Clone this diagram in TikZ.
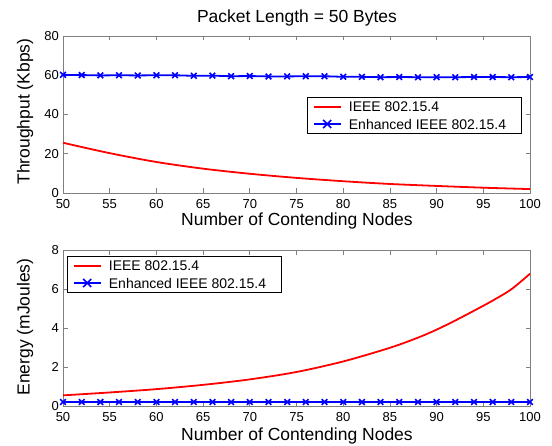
\documentclass[tikz,border=0pt]{standalone}
\usepackage{fontspec}
\setmainfont{Liberation Sans}
\usetikzlibrary{plotmarks}

\tikzset{
  axisline/.style={draw=black!50, line width=0.8pt},
  ticklabel/.style={font=\fontsize{13}{13}\selectfont, inner sep=1pt},
  axislabel/.style={font=\fontsize{17.5}{17.5}\selectfont, inner sep=0pt},
  redcurve/.style={red, line width=1.8pt},
  bluecurve/.style={blue, line width=1.8pt, mark=x, mark size=4pt,
                    mark options={line width=1.6pt}},
  legbox/.style={draw, line width=0.6pt, fill=white, minimum width=214pt,
                 minimum height=36pt, inner sep=0pt},
  legtext/.style={font=\fontsize{14}{14}\selectfont, anchor=west, inner sep=0pt},
  xmark/.pic={\draw[blue, line width=1.6pt] (-4pt,-4pt) -- (4pt,4pt)
                (-4pt,4pt) -- (4pt,-4pt);},
}

\begin{document}
\begin{tikzpicture}[x=1pt, y=1pt]
\useasboundingbox (0,0) rectangle (552,445);

% throughput vs. number of nodes
\begin{scope}[xshift=-404pt, yshift=252pt, x=9.34pt, y=1.9625pt]
  \draw[axisline] (50,0) rectangle (100,80);
  \foreach \t in {50,55,...,100} {
    \draw[axisline] (\t,0) -- ++(0,4.5pt) (\t,80) -- ++(0,-4.5pt);
    \node[ticklabel, yshift=-11pt] (tpx\t) at (\t,0) {\t};
  }
  \foreach \v in {0,20,...,80} {
    \draw[axisline] (50,\v) -- ++(4.5pt,0) (100,\v) -- ++(-4.5pt,0);
    \node[ticklabel, anchor=east, xshift=-3pt] (tpy\v) at (50,\v) {\v};
  }
  \draw[redcurve] plot[smooth] coordinates {
    (50,25.6) (55,20.3) (60,15.8) (65,12.4) (70,9.8) (75,7.7)
    (80,6.0) (85,4.6) (90,3.6) (95,2.7) (100,2.0)};
  \draw[bluecurve] plot coordinates {
    (50,60.2) (52,60.1) (54,59.9) (56,60.0) (58,59.9) (60,60.0) (62,60.0)
    (64,59.7) (66,59.8) (68,59.5) (70,59.6) (72,59.4) (74,59.4) (76,59.5)
    (78,59.5) (80,59.2) (82,59.2) (84,59.0) (86,59.1) (88,59.0) (90,59.0)
    (92,59.0) (94,59.1) (96,59.1) (98,59.0) (100,59.1)};
\end{scope}

% energy vs. number of nodes
\begin{scope}[xshift=-404pt, yshift=38.7pt, x=9.34pt, y=19.5pt]
  \draw[axisline] (50,0) rectangle (100,8);
  \foreach \t in {50,55,...,100} {
    \draw[axisline] (\t,0) -- ++(0,4.5pt) (\t,8) -- ++(0,-4.5pt);
    \node[ticklabel, yshift=-11pt] (enx\t) at (\t,0) {\t};
  }
  \foreach \v in {0,2,...,8} {
    \draw[axisline] (50,\v) -- ++(4.5pt,0) (100,\v) -- ++(-4.5pt,0);
    \node[ticklabel, anchor=east, xshift=-3pt] (eny\v) at (50,\v) {\v};
  }
  \draw[redcurve] plot[smooth] coordinates {
    (50,0.56) (55,0.71) (60,0.88) (65,1.1) (70,1.38) (75,1.76) (80,2.3)
    (85,3.0) (88,3.52) (90,3.93) (92,4.4) (94,4.9) (96,5.42) (98,6.0)
    (100,6.8)};
  \draw[bluecurve] plot coordinates {
    (50,0.22) (52,0.22) (54,0.22) (56,0.22) (58,0.22) (60,0.22) (62,0.22)
    (64,0.22) (66,0.22) (68,0.22) (70,0.22) (72,0.22) (74,0.22) (76,0.22)
    (78,0.22) (80,0.22) (82,0.22) (84,0.22) (86,0.22) (88,0.22) (90,0.22)
    (92,0.22) (94,0.22) (96,0.22) (98,0.22) (100,0.22)};
\end{scope}

% titles and axis labels
\node[axislabel] (title) at (297,427) {Packet Length = 50 Bytes};
\node[axislabel] (tpxlab) at (297,224) {Number of Contending Nodes};
\node[axislabel] (enxlab) at (297,9) {Number of Contending Nodes};
\node[axislabel, rotate=90] (tpylab) at (25,333.5) {Throughput (Kbps)};
\node[axislabel, rotate=90] (enylab) at (25,118) {Energy (mJoules)};

% legends
\foreach \lg/\cx/\cy in {tpleg/414/330, enleg/174/171} {
  \node[legbox] (\lg) at (\cx,\cy) {};
  \draw[redcurve] ([xshift=7pt, yshift=8pt]\lg.west)
    -- ([xshift=34pt, yshift=8pt]\lg.west);
  \node[legtext] (\lg a) at ([xshift=42pt, yshift=8pt]\lg.west) {IEEE 802.15.4};
  \draw[blue, line width=1.8pt] ([xshift=7pt, yshift=-9pt]\lg.west)
    -- ([xshift=34pt, yshift=-9pt]\lg.west);
  \pic at ([xshift=20.5pt, yshift=-9pt]\lg.west) {xmark};
  \node[legtext] (\lg b) at ([xshift=42pt, yshift=-9pt]\lg.west) {Enhanced IEEE 802.15.4};
}
\end{tikzpicture}
\end{document}
